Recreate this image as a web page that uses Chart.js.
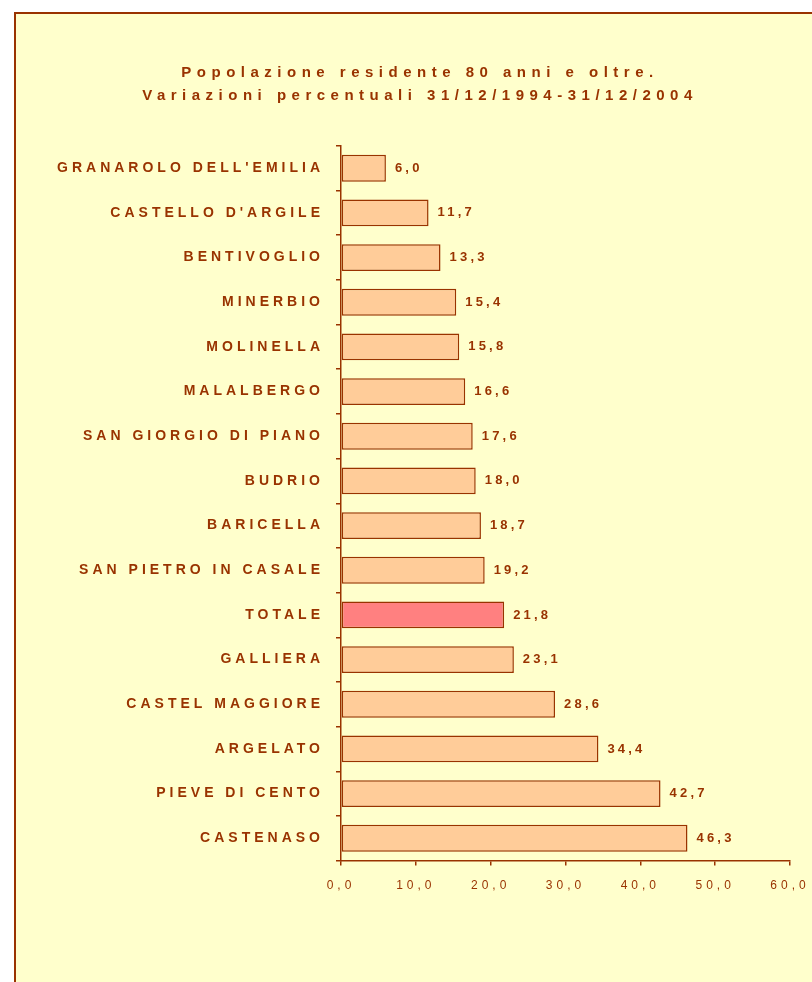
<!DOCTYPE html>
<html>
<head>
<meta charset="utf-8">
<title>Popolazione residente 80 anni e oltre</title>
<script src="https://cdn.jsdelivr.net/npm/chart.js@4.4.1/dist/chart.umd.min.js"></script>
<style>
  html, body { margin: 0; padding: 0; background: #fff; overflow: hidden; width: 812px; height: 982px; }
  #cornice {
    position: absolute; left: 14px; top: 12px; width: 900px; height: 1000px;
    background: #FFFFCC; border-top: 2px solid #993300; border-left: 2px solid #993300;
  }
  #grafico { position: absolute; left: 0; top: 0; }
</style>
</head>
<body>
<div id="cornice"></div>
<canvas id="grafico" width="840" height="982"></canvas>
<script>
// DATI
const titolo = ["Popolazione residente 80 anni e oltre.", "Variazioni percentuali 31/12/1994-31/12/2004"];
const comuni = [
  "GRANAROLO DELL'EMILIA", "CASTELLO D'ARGILE", "BENTIVOGLIO", "MINERBIO",
  "MOLINELLA", "MALALBERGO", "SAN GIORGIO DI PIANO", "BUDRIO", "BARICELLA",
  "SAN PIETRO IN CASALE", "TOTALE", "GALLIERA", "CASTEL MAGGIORE",
  "ARGELATO", "PIEVE DI CENTO", "CASTENASO"
];
const variazioni = [6.0, 11.7, 13.3, 15.4, 15.8, 16.6, 17.6, 18.0, 18.7, 19.2, 21.8, 23.1, 28.6, 34.4, 42.7, 46.3];
const asseMin = 0;
const asseMax = 60;
const assePasso = 10;

// COLORI
const marrone = "#993300";
const arancio = "#FFCC99";
const rosa = "#FF8080";

const fmt = v => v.toFixed(1).replace(".", ",");

Chart.defaults.font.family = "'Liberation Sans', Arial, sans-serif";
Chart.defaults.color = marrone;

// spaziatura lettere (titolo 5.5px, assi 4px) + etichette dei valori
const spaziatura = {
  id: "spaziatura",
  beforeLayout(chart) { chart.ctx.letterSpacing = "4px"; },
  beforeDraw(chart) { chart.ctx.letterSpacing = "5.5px"; },
  beforeDatasetsDraw(chart) { chart.ctx.letterSpacing = "4px"; },
  afterDatasetsDraw(chart) {
    const ctx = chart.ctx;
    const meta = chart.getDatasetMeta(0);
    ctx.save();
    ctx.letterSpacing = "3.2px";
    ctx.font = "bold 13px 'Liberation Sans', Arial, sans-serif";
    ctx.fillStyle = marrone;
    ctx.textAlign = "left";
    ctx.textBaseline = "middle";
    meta.data.forEach((bar, i) => {
      ctx.fillText(fmt(variazioni[i]), bar.x + 9, bar.y);
    });
    ctx.restore();
  }
};

new Chart(document.getElementById("grafico"), {
  type: "bar",
  data: {
    labels: comuni,
    datasets: [{
      data: variazioni,
      backgroundColor: comuni.map(c => c === "TOTALE" ? rosa : arancio),
      borderColor: marrone,
      borderWidth: 1.5,
      borderSkipped: false,
      barPercentage: 0.6,
      categoryPercentage: 1
    }]
  },
  options: {
    indexAxis: "y",
    responsive: false,
    animation: false,
    layout: { padding: { left: 50, right: 50, top: 0, bottom: 76 } },
    plugins: {
      legend: { display: false },
      tooltip: { enabled: false },
      title: {
        display: true,
        text: titolo,
        color: marrone,
        font: { size: 15, weight: "bold", lineHeight: 1.53 },
        padding: { top: 61, bottom: 39 }
      }
    },
    scales: {
      x: {
        min: asseMin,
        max: asseMax,
        ticks: {
          z: 1,
          stepSize: assePasso,
          padding: 13,
          color: marrone,
          font: { size: 12 },
          callback: v => fmt(v)
        },
        grid: { drawOnChartArea: false, color: marrone, tickLength: 5, lineWidth: 1.5 },
        border: { color: marrone, width: 1.5 }
      },
      y: {
        ticks: {
          z: 1,
          padding: 12,
          color: marrone,
          font: { size: 14, weight: "bold" },
          autoSkip: false
        },
        grid: { drawOnChartArea: false, color: marrone, tickLength: 5, lineWidth: 1.5, offset: true },
        border: { color: marrone, width: 1.5 },
        afterFit(scale) { scale.width = 291; }
      }
    }
  },
  plugins: [spaziatura]
});
</script>
</body>
</html>
